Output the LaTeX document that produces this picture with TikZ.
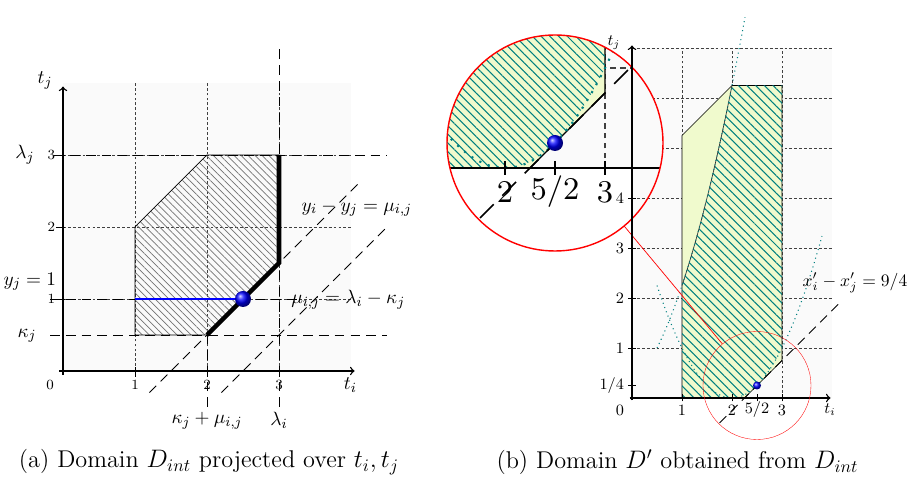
\documentclass[tikz,border=0pt]{standalone}
\usepackage{amsmath,amssymb}
\usetikzlibrary{positioning,patterns,patterns.meta,spy}
\definecolor{PanelGray}{RGB}{250,250,250}
\definecolor{PaleLime}{RGB}{240,250,205}
\definecolor{HatchTeal}{RGB}{0,128,128}

\begin{document}
\begin{tikzpicture}[
    >=to,
    grid line/.style={black!75, line width=0.4pt, dash pattern=on 1.6pt off 1.2pt},
    guide/.style={black, line width=0.5pt, dash pattern=on 5.5pt off 3.5pt},
    axisline/.style={->, thick},
    tickmark/.style={thin},
    num/.style={font=\footnotesize, inner sep=1pt},
    bnum/.style={font=\small, inner sep=1pt},
    lbl/.style={font=\fontsize{11}{13}\selectfont, inner sep=1pt},
    captext/.style={font=\fontsize{13.8}{16}\selectfont, inner sep=1pt},
    dombox/.style={draw, thin, pattern={Lines[angle=-45, distance=2.8pt, line width=0.4pt]}, pattern color=black!55},
    tealhatch/.style={pattern={Lines[angle=-45, distance=3.5pt, line width=0.6pt]}, pattern color=HatchTeal},
    bigball/.style={circle, shade, ball color=blue, inner sep=0pt, minimum size=0.32cm},
    smallball/.style={circle, shade, ball color=blue, inner sep=0pt, minimum size=0.16cm},
    parab/.style={HatchTeal, line width=0.6pt, dotted}
]
\useasboundingbox (0,0) rectangle (18.24,9.56);

% (a) domain projected over t_i, t_j
\begin{scope}[shift={(1.26,2.14)}, scale=1.44]
  \fill[PanelGray] (0,0) rectangle (4,4);
  \foreach \k in {1,2,3} {
    \draw[grid line] (\k,0) -- (\k,4);
    \draw[grid line] (0,\k) -- (4,\k);
  }
  \draw[dombox] (1,0.5) -- (2,0.5) -- (3,1.5) -- (3,3) -- (2,3) -- (1,2) -- cycle;

  \draw[guide] (-0.12,3) -- (4.5,3);
  \draw[guide] (-0.18,1) -- (3.3,1);
  \draw[guide] (-0.18,0.5) -- (4.5,0.5);
  \draw[guide] (3,-0.5) -- (3,4.5);
  \draw[guide] (2,-0.5) -- (2,0.5);
  \draw[guide] (1.2,-0.3) -- (4.1,2.6);
  \draw[guide] (2.2,-0.3) -- (4.5,2.0);

  \draw[axisline] (-0.05,0) -- (4.05,0);
  \draw[axisline] (0,-0.05) -- (0,3.95);
  \foreach \k in {1,2,3} {
    \draw[tickmark] (\k,-0.08) -- (\k,0.05);
    \draw[tickmark] (-0.1,\k) -- (0.03,\k);
    \node[num] (ax\k) at (\k,-0.19) {\k};
    \node[num] (ay\k) at (-0.16,\k) {\k};
  }
  \node[num] (aorig) at (-0.18,-0.19) {0};

  \draw[line width=2.6pt] (2,0.5) -- (3,1.5) -- (3,3);
  \draw[blue, line width=1.2pt] (1,1) -- (2.5,1);
  \node[bigball] (aball) at (2.5,1) {};

  \node[lbl] (atj) at (-0.25,4.04) {$t_j$};
  \node[lbl] (ati) at (3.99,-0.19) {$t_i$};
  \node[lbl] (alj) at (-0.53,3) {$\lambda_j$};
  \node[lbl] (ayj) at (-0.46,1.24) {$y_j = 1$};
  \node[lbl] (akj) at (-0.5,0.49) {$\kappa_j$};
  \node[lbl] (akm) at (2,-0.69) {$\kappa_j + \mu_{i,j}$};
  \node[lbl] (ali) at (3,-0.69) {$\lambda_i$};
  \node[lbl] (aeqa) at (4.08,2.26) {$y_i - y_j = \mu_{i,j}$};
  \node[lbl] (aeqb) at (3.96,0.99) {$\mu_{i,j} = \lambda_i - \kappa_j$};
\end{scope}

% (b) domain D' with a zoom on the contact point
\begin{scope}[spy using outlines={circle, red, magnification=2, size=4.32cm, connect spies}]
\begin{scope}[shift={(12.64,1.6)}]
  \fill[PanelGray] (0,0) rectangle (4,7);
  \foreach \k in {1,2,3} \draw[grid line] (\k,0) -- (\k,7);
  \foreach \k in {1,...,7} \draw[grid line] (0,\k) -- (4,\k);

  \draw[thin, fill=PaleLime] (1,0) -- (1,5.25) -- (2,6.25) -- (3,6.25) -- (3,0.75) -- (2.25,0) -- cycle;
  \fill[tealhatch]
    (1,0) -- (2,0) -- plot[domain=2:3, samples=25] (\x,{(\x-2)*(\x-2)})
    -- (3,6.25) -- (2,6.25) -- plot[domain=2:1, samples=25] (\x,{(\x+0.5)*(\x+0.5)}) -- cycle;
  \draw[thin, black!80] plot[domain=1:2, samples=25] (\x,{(\x+0.5)*(\x+0.5)});
  \draw[parab] plot[domain=0.5:3.8, samples=60] (\x,{(\x-2)*(\x-2)});
  \draw[parab] plot[domain=0.5:2.26, samples=40] (\x,{(\x+0.5)*(\x+0.5)});

  \draw[guide] (1.75,-0.5) -- (4.2,1.95);

  \draw[axisline] (-0.05,0) -- (3.97,0);
  \foreach \k/\t [count=\n] in {1/1, 2/2, 2.5/{5/2}, 3/3} {
    \draw[tickmark] (\k,-0.07) -- (\k,0.07);
    \node[bnum] (bx\n) at (\k,-0.24) {$\t$};
  }
  \foreach \k/\t [count=\n] in {0.25/{1/4}, 1/1, 2/2, 3/3, 4/4} {
    \draw[tickmark] (-0.08,\k) -- (0.07,\k);
    \node[bnum, anchor=east] (by\n) at (-0.12,\k) {$\t$};
  }
  \node[bnum] (borig) at (-0.24,-0.24) {0};
  \node[bnum] (bti) at (3.96,-0.24) {$t_i$};

  \node[smallball] (bball) at (2.5,0.25) {};
  \node[lbl, font=\normalsize] (beq) at (4.46,2.3) {$x'_i - x'_j = 9/4$};
\end{scope}
\spy[red] on (bball.center) in node[line width=0.8pt] (zoom) at (11.1,6.7);
\end{scope}

\begin{scope}[shift={(12.64,1.6)}]
  \draw[axisline] (0,-0.05) -- (0,7.05);
  \node[bnum] (btj) at (-0.36,7.1) {$t_j$};
\end{scope}

\node[captext] (capa) at (4.18,0.32) {(a) Domain $D_{int}$ projected over $t_i,t_j$};
\node[captext] (capb) at (13.55,0.32) {(b) Domain $D'$ obtained from $D_{int}$};
\end{tikzpicture}
\end{document}
